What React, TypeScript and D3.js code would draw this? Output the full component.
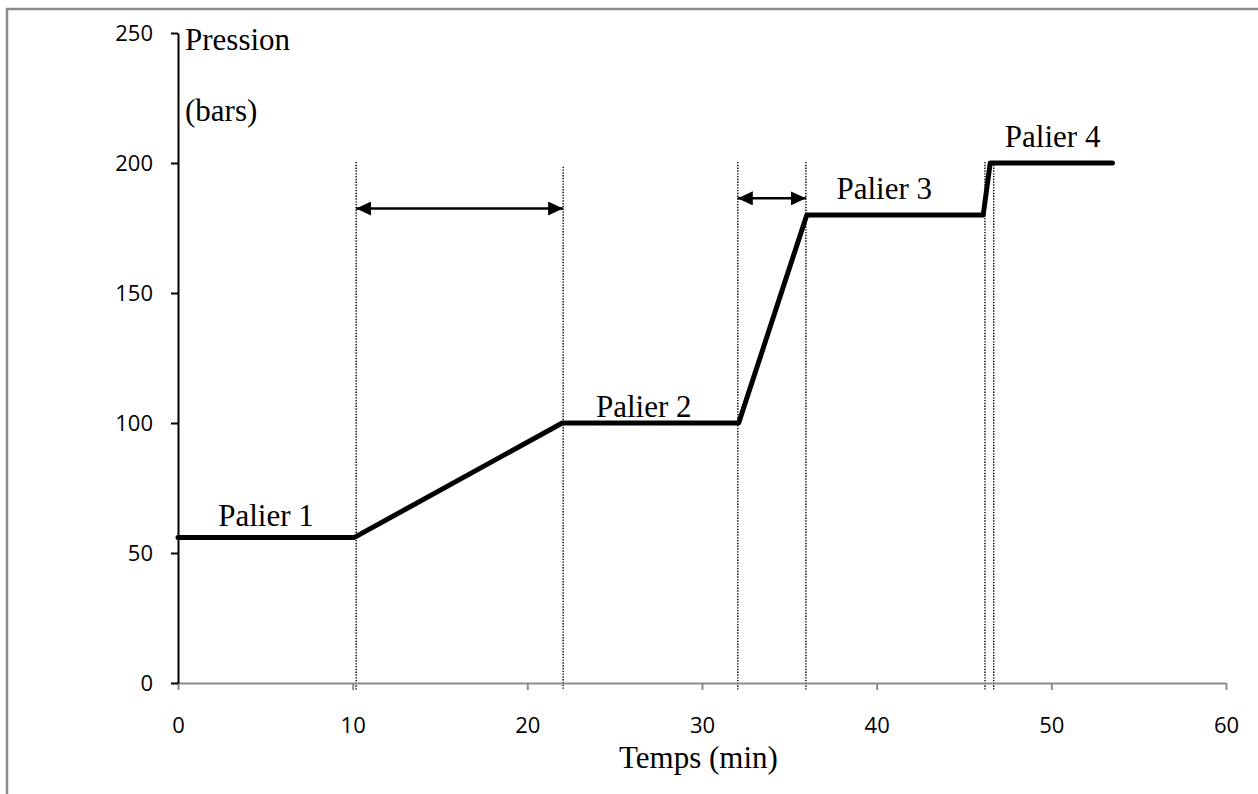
import React, { useEffect, useRef } from 'react';
import * as d3 from 'd3';

// pressure profile (time in min, pressure in bars)
const times = [0, 10.1, 22, 32.1, 36, 46.1, 46.5, 53.5];
const pressures = [56, 56, 100, 100, 180, 180, 200, 200];

// dotted markers: time, top value
const markerTimes = [10.2, 22.05, 32.05, 35.95, 46.2, 46.7];
const markerTops = [200.4, 198.6, 200.4, 200.4, 200.4, 200.4];

// double arrows between markers
const arrowFrom = [10.2, 32.05];
const arrowTo = [22.05, 35.95];
const arrowLevel = [182.5, 186.4];

const stepLabels = ['Palier 1', 'Palier 2', 'Palier 3', 'Palier 4'];
const stepLabelT = [2.3, 23.93, 37.7, 47.34];
const stepLabelV = [60.5, 102.4, 186.2, 206];

const xTicks = [0, 10, 20, 30, 40, 50, 60];
const yTicks = [0, 50, 100, 150, 200, 250];

const W = 1258;
const H = 794;

const App: React.FC = () => {
  const svgRef = useRef<SVGSVGElement>(null);

  useEffect(() => {
    if (!svgRef.current) return;
    const svg = d3.select(svgRef.current);
    svg.selectAll('*').remove();

    const x = d3.scaleLinear().domain([0, 60]).range([178, 1226]);
    const y = d3.scaleLinear().domain([0, 250]).range([683, 33]);

    const serif = '"Liberation Serif", "Times New Roman", serif';
    const sans = '"Open Sans", "Liberation Sans", sans-serif';

    // frame (only top and left edges visible)
    svg.append('path')
      .attr('d', `M7,${H} V9 H${W}`)
      .attr('fill', 'none')
      .attr('stroke', '#8a8a8a')
      .attr('stroke-width', 2.5);

    // arrow heads
    const defs = svg.append('defs');
    defs.append('marker')
      .attr('id', 'head')
      .attr('viewBox', '0 0 15 14')
      .attr('refX', 15)
      .attr('refY', 7)
      .attr('markerWidth', 15)
      .attr('markerHeight', 14)
      .attr('markerUnits', 'userSpaceOnUse')
      .attr('orient', 'auto-start-reverse')
      .append('path')
      .attr('d', 'M0,0 L15,7 L0,14 Z')
      .attr('fill', '#000');

    // dotted verticals
    svg.append('g')
      .selectAll('line')
      .data(markerTimes)
      .enter().append('line')
      .attr('x1', d => x(d))
      .attr('x2', d => x(d))
      .attr('y1', (_, i) => y(markerTops[i]))
      .attr('y2', y(-2.5))
      .attr('stroke', '#000')
      .attr('stroke-width', 1.4)
      .attr('stroke-dasharray', '1.4,1.4');

    // x axis (grey)
    const xAxis = svg.append('g')
      .attr('transform', `translate(0,${y(0)})`)
      .call(d3.axisBottom(x).tickValues(xTicks).tickSize(7).tickSizeOuter(0).tickPadding(27));
    xAxis.select('.domain').attr('stroke', '#8c8c8c').attr('stroke-width', 2);
    xAxis.selectAll('.tick line').attr('stroke', '#8c8c8c').attr('stroke-width', 2);
    xAxis.selectAll('.tick text')
      .attr('fill', '#000')
      .style('font-family', sans)
      .style('font-size', '22px');

    // y axis (black)
    const yAxis = svg.append('g')
      .attr('transform', `translate(${x(0)},0)`)
      .call(d3.axisLeft(y).tickValues(yTicks).tickSize(7).tickSizeOuter(0).tickPadding(18));
    yAxis.select('.domain').attr('stroke', '#000').attr('stroke-width', 2);
    yAxis.selectAll('.tick line').attr('stroke', '#000').attr('stroke-width', 2);
    yAxis.selectAll('.tick text')
      .attr('fill', '#000')
      .style('font-family', sans)
      .style('font-size', '22px');

    // pressure line
    const line = d3.line<number>()
      .x((_, i) => x(times[i]))
      .y(d => y(d));
    svg.append('path')
      .datum(pressures)
      .attr('d', line)
      .attr('fill', 'none')
      .attr('stroke', '#000')
      .attr('stroke-width', 5)
      .attr('stroke-linejoin', 'round')
      .attr('stroke-linecap', 'round');

    // double arrows
    svg.append('g')
      .selectAll('line')
      .data(arrowFrom)
      .enter().append('line')
      .attr('x1', d => x(d))
      .attr('x2', (_, i) => x(arrowTo[i]))
      .attr('y1', (_, i) => y(arrowLevel[i]))
      .attr('y2', (_, i) => y(arrowLevel[i]))
      .attr('stroke', '#000')
      .attr('stroke-width', 2.5)
      .attr('marker-start', 'url(#head)')
      .attr('marker-end', 'url(#head)');

    // step labels
    svg.append('g')
      .selectAll('text')
      .data(stepLabels)
      .enter().append('text')
      .attr('x', (_, i) => x(stepLabelT[i]))
      .attr('y', (_, i) => y(stepLabelV[i]))
      .style('font-family', serif)
      .style('font-size', '31px')
      .attr('fill', '#000')
      .text(d => d);

    // axis titles
    svg.append('text')
      .attr('x', 185).attr('y', 50)
      .style('font-family', serif).style('font-size', '31px')
      .text('Pression');
    svg.append('text')
      .attr('x', 185).attr('y', 121)
      .style('font-family', serif).style('font-size', '31px')
      .text('(bars)');
    svg.append('text')
      .attr('x', 619).attr('y', 768)
      .style('font-family', serif).style('font-size', '31px')
      .text('Temps (min)');
  }, []);

  return (
    <svg
      ref={svgRef}
      width={W}
      height={H}
      style={{ position: 'absolute', left: 0, top: 0, background: '#fff' }}
    />
  );
};

export default App;
